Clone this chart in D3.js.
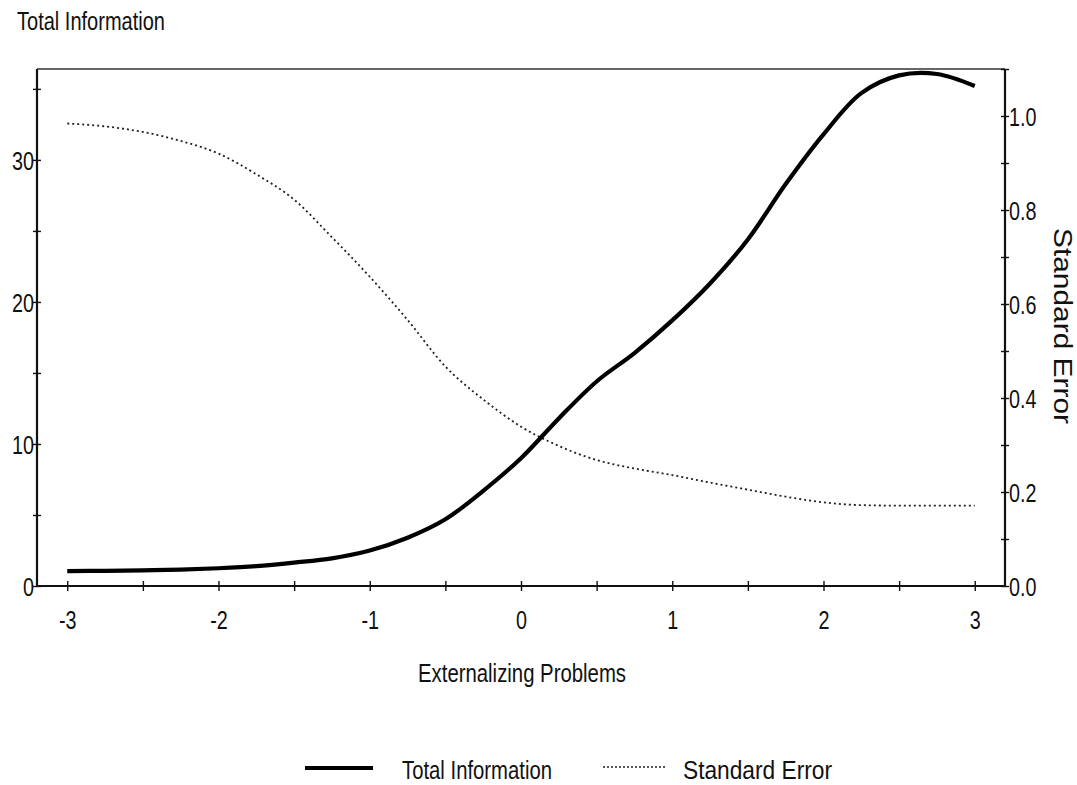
<!DOCTYPE html>
<html>
<head>
<meta charset="utf-8">
<script src="https://cdn.jsdelivr.net/npm/d3@7/dist/d3.min.js"></script>
<style>
  body { margin: 0; background: #fff; }
  text { font-family: "Liberation Sans", Arial, sans-serif; fill: #111; }
</style>
</head>
<body>
<svg id="chart" width="1077" height="785"></svg>
<script>
// Latent trait (theta) grid
const theta = [-3, -2.75, -2.5, -2.25, -2, -1.75, -1.5, -1.25, -1, -0.75, -0.5, -0.25,
               0, 0.25, 0.5, 0.75, 1, 1.25, 1.5, 1.75, 2, 2.25, 2.5, 2.75, 3];
// Test information function
const totalInfo = [1.05, 1.07, 1.1, 1.15, 1.25, 1.4, 1.65, 1.95, 2.5, 3.4, 4.7, 6.7,
                   9.0, 11.8, 14.4, 16.4, 18.7, 21.3, 24.4, 28.3, 31.8, 34.7, 35.95, 36.05, 35.2];
// Standard error of measurement
const standardError = [0.984, 0.978, 0.966, 0.947, 0.92, 0.876, 0.822, 0.742, 0.658, 0.566, 0.467, 0.397,
                       0.339, 0.298, 0.268, 0.25, 0.236, 0.22, 0.205, 0.19, 0.178, 0.172, 0.171, 0.171, 0.171];

// Axis ticks and labels
const thetaTicks = [-3, -2.5, -2, -1.5, -1, -0.5, 0, 0.5, 1, 1.5, 2, 2.5, 3];
const thetaLabels = [-3, -2, -1, 0, 1, 2, 3];
const infoTicks = [0, 5, 10, 15, 20, 25, 30, 35];
const infoLabels = [0, 10, 20, 30];
const seTicks = [0, 0.1, 0.2, 0.3, 0.4, 0.5, 0.6, 0.7, 0.8, 0.9, 1.0, 1.1];
const seLabels = [0, 0.2, 0.4, 0.6, 0.8, 1.0];

const svg = d3.select("#chart");
const plot = { left: 37, right: 1005, top: 69, bottom: 586 };

const x = d3.scaleLinear().domain([-3.2, 3.2]).range([plot.left, plot.right]);
const yInfo = d3.scaleLinear().domain([0, 36.4]).range([plot.bottom, plot.top]);
const ySE = d3.scaleLinear().domain([0, 1.1]).range([plot.bottom, plot.top]);

// Squeeze text horizontally to a narrow face
function narrow(sel, f) {
  sel.each(function () {
    const w = this.getComputedTextLength();
    d3.select(this).attr("textLength", w * f).attr("lengthAdjust", "spacingAndGlyphs");
  });
}

// Frame top edge
svg.append("line")
  .attr("x1", plot.left).attr("x2", plot.right)
  .attr("y1", plot.top).attr("y2", plot.top)
  .attr("stroke", "#333").attr("stroke-width", 1.6);

// Bottom axis
const gx = svg.append("g").attr("transform", `translate(0,${plot.bottom})`)
  .call(d3.axisBottom(x).tickValues(thetaTicks)
    .tickFormat(d => thetaLabels.includes(d) ? d3.format("d")(d) : "")
    .tickSizeOuter(0));
gx.select(".domain").remove();
gx.append("line").attr("x1", plot.left).attr("x2", plot.right)
  .attr("stroke", "#111").attr("stroke-width", 2.2);
gx.selectAll(".tick line").attr("y1", -5).attr("y2", 5).attr("stroke", "#111").attr("stroke-width", 1.4);
gx.selectAll(".tick text").attr("y", 34).attr("dy", "0.36em")
  .style("font-size", "26px").text(function (d) { return thetaLabels.includes(d) ? String(d) : ""; });

// Left axis (information)
const gl = svg.append("g").attr("transform", `translate(${plot.left},0)`)
  .call(d3.axisLeft(yInfo).tickValues(infoTicks)
    .tickFormat(d => infoLabels.includes(d) ? String(d) : "")
    .tickSizeOuter(0));
gl.select(".domain").remove();
gl.append("line").attr("y1", plot.top).attr("y2", plot.bottom)
  .attr("stroke", "#111").attr("stroke-width", 2.2);
gl.selectAll(".tick line").attr("x1", -4).attr("x2", 4).attr("stroke", "#111").attr("stroke-width", 1.4);
gl.selectAll(".tick text").attr("x", -3).attr("dy", "0.36em").style("font-size", "26px");

// Right axis (standard error)
const gr = svg.append("g").attr("transform", `translate(${plot.right},0)`)
  .call(d3.axisRight(ySE).tickValues(seTicks)
    .tickFormat(d => seLabels.some(v => Math.abs(v - d) < 1e-9) ? d3.format(".1f")(d) : "")
    .tickSizeOuter(0));
gr.select(".domain").remove();
gr.append("line").attr("y1", plot.top).attr("y2", plot.bottom)
  .attr("stroke", "#111").attr("stroke-width", 2.2);
gr.selectAll(".tick line").attr("x1", -4).attr("x2", 4).attr("stroke", "#111").attr("stroke-width", 1.4);
gr.selectAll(".tick text").attr("x", 4).attr("dy", "0.36em").style("font-size", "26px");

svg.selectAll(".tick text").call(narrow, 0.76);

// Curves
const infoLine = d3.line().x((d, i) => x(theta[i])).y(d => yInfo(d)).curve(d3.curveCatmullRom.alpha(0.5));
const seLine = d3.line().x((d, i) => x(theta[i])).y(d => ySE(d)).curve(d3.curveMonotoneX);

svg.append("path").datum(standardError)
  .attr("d", seLine).attr("fill", "none")
  .attr("stroke", "#222").attr("stroke-width", 1.8).attr("stroke-dasharray", "2,3");

svg.append("path").datum(totalInfo)
  .attr("d", infoLine).attr("fill", "none")
  .attr("stroke", "#000").attr("stroke-width", 4.2).attr("stroke-linejoin", "round");

// Titles
svg.append("text").attr("x", 17).attr("y", 30)
  .style("font-size", "26px").text("Total Information")
  .attr("textLength", 148).attr("lengthAdjust", "spacingAndGlyphs");

svg.append("text").attr("x", 522).attr("y", 682).attr("text-anchor", "middle")
  .style("font-size", "26px").text("Externalizing Problems")
  .attr("textLength", 208).attr("lengthAdjust", "spacingAndGlyphs");

svg.append("text").attr("transform", "translate(1054,326) rotate(90)")
  .attr("text-anchor", "middle")
  .style("font-size", "25px").text("Standard Error")
  .attr("textLength", 196).attr("lengthAdjust", "spacingAndGlyphs");

// Legend
const legend = svg.append("g");
legend.append("line").attr("x1", 305).attr("x2", 373).attr("y1", 768).attr("y2", 768)
  .attr("stroke", "#000").attr("stroke-width", 4.2);
legend.append("text").attr("x", 402).attr("y", 779).style("font-size", "26px")
  .text("Total Information").attr("textLength", 150).attr("lengthAdjust", "spacingAndGlyphs");
legend.append("line").attr("x1", 603).attr("x2", 667).attr("y1", 767).attr("y2", 767)
  .attr("stroke", "#222").attr("stroke-width", 1.4).attr("stroke-dasharray", "2,2");
legend.append("text").attr("x", 683).attr("y", 779).style("font-size", "26px")
  .text("Standard Error").attr("textLength", 149).attr("lengthAdjust", "spacingAndGlyphs");
</script>
</body>
</html>
